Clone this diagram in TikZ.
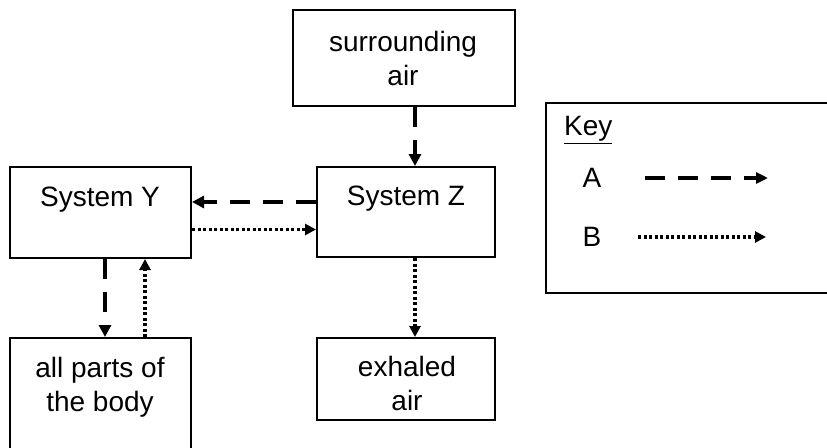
\documentclass[tikz,border=0pt]{standalone}
\usepackage{fontspec}
\setmainfont{Liberation Sans}
\usetikzlibrary{arrows.meta}
\begin{document}
\begin{tikzpicture}[x=1pt,y=-1pt,
  box/.style={draw, line width=2pt, inner sep=0pt},
  txt/.style={font=\fontsize{28}{34}\selectfont, align=center, inner sep=0pt},
  arrA/.style={line width=4.5pt, dash pattern=on 20pt off 13pt, -{Triangle[length=12pt,width=12pt]}},
  keyA/.style={line width=3.5pt, dash pattern=on 20pt off 13pt, -{Triangle[length=12pt,width=11pt]}},
  arrB/.style={line width=3.5pt, dash pattern=on 3pt off 2.5pt, -{Triangle[length=11pt,width=11pt]}}]
\useasboundingbox (0,0) rectangle (827,447);
\fill[white] (0,0) rectangle (827,447);
% boxes
\node[box, minimum width=181pt, minimum height=91pt] (Y) at (100.5,212.5) {};
\node[box, minimum width=178pt, minimum height=90pt] (Z) at (406,212) {};
\node[box, minimum width=222pt, minimum height=96pt] (S) at (404,58) {};
\node[box, minimum width=178pt, minimum height=82pt] (E) at (406,379) {};
\node[box, minimum width=181pt, minimum height=124pt] (P) at (100.5,400) {};
\node[box, minimum width=304pt, minimum height=190pt] (K) at (698,198) {};
% texts
\node[txt] (tY) at (100,200) {System Y};
\node[txt] (tZ) at (406,199) {System Z};
\node[txt] (tS) at (403,58) {surrounding\\air};
\node[txt] (tE) at (407,383) {exhaled\\air};
\node[txt] (tP) at (100,387) {all parts of\\the body};
\node[txt, anchor=west] (tK) at (564,130) {\underline{Key}};
\node[txt] (tA) at (592,178) {A};
\node[txt] (tB) at (592,237) {B};
% connectors
\draw[arrA] ([xshift=11pt]S.south) -- ([xshift=11pt]S.south |- Z.north);
\draw[arrA] ([yshift=10pt]Z.west) -- ([yshift=10pt]Z.west -| Y.east);
\draw[arrB] ([yshift=-17pt]Y.east) -- ([yshift=-17pt]Y.east -| Z.west);
\draw[arrA] ([xshift=4.5pt]Y.south) -- ([xshift=4.5pt]Y.south |- P.north);
\draw[arrB] ([xshift=44.5pt]P.north) -- ([xshift=44.5pt]P.north |- Y.south);
\draw[arrB] ([xshift=9pt]Z.south) -- ([xshift=9pt]Z.south |- E.north);
% key arrows
\coordinate (a1) at (645,178);
\coordinate (a2) at (768,178);
\coordinate (b1) at (638,237);
\coordinate (b2) at (766,237);
\draw[keyA] (a1) -- (a2);
\draw[arrB] (b1) -- (b2);
\end{tikzpicture}
\end{document}
